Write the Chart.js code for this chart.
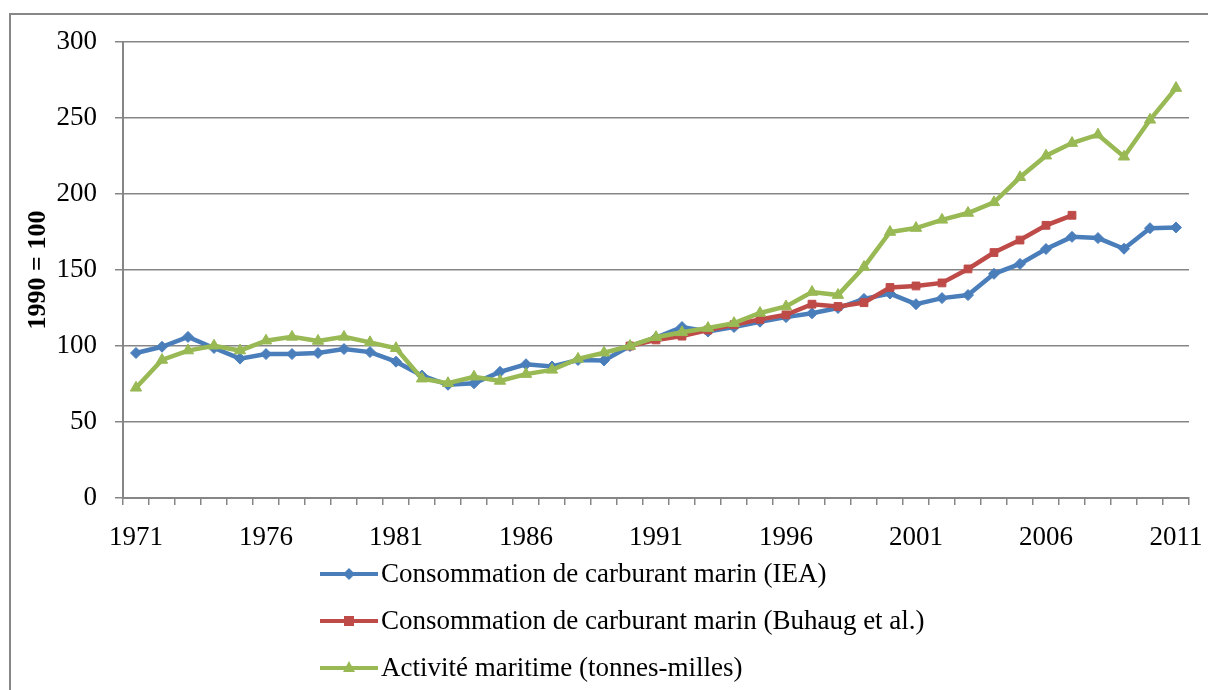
<!DOCTYPE html>
<html>
<head>
<meta charset="utf-8">
<script src="https://cdn.jsdelivr.net/npm/chart.js@4.4.0/dist/chart.umd.min.js"></script>
<style>
body { margin: 0; width: 1208px; height: 690px; overflow: hidden; background: #fff; position: relative; font-family: "Liberation Serif", "Times New Roman", serif; }
#frame { position: absolute; left: 9px; top: 13px; width: 1300px; height: 800px; border: 2px solid #878787; box-sizing: border-box; }
#chart { position: absolute; left: 0; top: 0; }
#legend { position: absolute; left: 320px; top: 550px; }
.item { display: flex; align-items: center; height: 47px; font-size: 27px; color: #000; white-space: nowrap; }
.item svg { margin-right: 3px; }
</style>
</head>
<body>
<div id="frame"></div>
<canvas id="chart" width="1208" height="690"></canvas>
<div id="legend"></div>
<script>
// years on the x axis
const years = ['1971','1972','1973','1974','1975','1976','1977','1978','1979','1980',
  '1981','1982','1983','1984','1985','1986','1987','1988','1989','1990',
  '1991','1992','1993','1994','1995','1996','1997','1998','1999','2000',
  '2001','2002','2003','2004','2005','2006','2007','2008','2009','2010','2011'];

// only every fifth year gets a label
const xTickLabels = ['1971','1976','1981','1986','1991','1996','2001','2006','2011'];

const ieaFuel = [95.4, 99.5, 106, 98.7, 91.7, 94.7, 94.7, 95.4, 98, 96,
  89.7, 80.5, 74.5, 75.5, 83, 88, 86.5, 90.8, 90.5, 100,
  105.5, 112.5, 109.5, 112.5, 116, 119, 121.5, 125, 131, 134.5,
  127.5, 131.5, 133.5, 147.5, 154, 163.8, 171.8, 171, 164, 177.5, 178];

// Buhaug et al. only covers 1990-2007
const buhaugFuel = [null, null, null, null, null, null, null, null, null, null,
  null, null, null, null, null, null, null, null, null, 100,
  104, 106.5, 110.5, 114, 117.5, 120.5, 127.5, 126, 128.5, 138.5,
  139.5, 141.5, 150.7, 161.5, 169.7, 179.4, 186, null, null, null, null];

const shipActivity = [72.5, 90.8, 97, 100.2, 97, 103.5, 106, 103.3, 106, 102.4,
  98.5, 78.5, 75.5, 79.8, 77, 81.5, 84.3, 91.5, 95.6, 100,
  105.8, 109, 111.8, 115, 121.7, 126, 135.5, 133.5, 152, 175,
  177.6, 183, 187.5, 194.5, 211, 225.2, 233.5, 239, 224.5, 248.8, 269.7];

const seriesNames = [
  'Consommation de carburant marin (IEA)',
  'Consommation de carburant marin (Buhaug et al.)',
  'Activité maritime (tonnes-milles)'
];

const serif = '"Liberation Serif", "Times New Roman", serif';
const gridGrey = '#868686';

function lineSet(label, data, color, style, radius, order) {
  return {
    label: label,
    data: data,
    borderColor: color,
    backgroundColor: color,
    borderWidth: 4.5,
    pointStyle: style,
    pointRadius: radius,
    pointBorderWidth: 1,
    tension: 0,
    spanGaps: false,
    order: order
  };
}

const chart = new Chart(document.getElementById('chart'), {
  type: 'line',
  data: {
    labels: years,
    datasets: [
      lineSet(seriesNames[0], ieaFuel, '#4A7EBB', 'rectRot', 5.5, 2),
      lineSet(seriesNames[1], buhaugFuel, '#BE4B48', 'rect', 5.5, 1),
      lineSet(seriesNames[2], shipActivity, '#98B954', 'triangle', 6.5, 0)
    ]
  },
  options: {
    responsive: false,
    animation: false,
    layout: { padding: { top: 42, right: 19, left: 0, bottom: 0 } },
    plugins: {
      legend: { display: false },
      tooltip: { enabled: false }
    },
    scales: {
      x: {
        offset: true,
        grid: { drawOnChartArea: false, drawTicks: true, tickLength: 7, offset: true, color: gridGrey, lineWidth: 1.5 },
        border: { color: gridGrey, width: 2 },
        ticks: {
          autoSkip: false,
          maxRotation: 0,
          padding: 17,
          color: '#000',
          font: { family: serif, size: 27 },
          callback: function (val, i) {
            return xTickLabels.includes(years[i]) ? years[i] : '';
          }
        },
        afterFit: function (s) {
          s.height = 192;
          s.paddingLeft = 0;
          s.paddingRight = 0;
        }
      },
      y: {
        min: 0,
        max: 300,
        ticks: { stepSize: 50, padding: 18, color: '#000', font: { family: serif, size: 27 } },
        grid: { color: gridGrey, lineWidth: 1.5, tickLength: 8 },
        border: { color: gridGrey, width: 2 },
        title: {
          display: true,
          text: '1990 = 100',
          color: '#000',
          font: { family: serif, size: 26, weight: 'bold' },
          padding: { top: 23, bottom: 0 }
        },
        afterFit: function (s) {
          s.width = 123;
          s.paddingTop = 0;
          s.paddingBottom = 0;
        }
      }
    }
  }
});

// html legend, one entry per row like the original
function markerSvg(style, c) {
  if (style === 'rectRot') return '<polygon points="29,4 35,10 29,16 23,10" fill="' + c + '"/>';
  if (style === 'rect') return '<rect x="24" y="5" width="10" height="10" fill="' + c + '"/>';
  return '<polygon points="29,3 35,14 23,14" fill="' + c + '"/>';
}

const legendBox = document.getElementById('legend');
chart.data.datasets.forEach(function (ds) {
  const row = document.createElement('div');
  row.className = 'item';
  row.innerHTML = '<svg width="58" height="20"><line x1="0" y1="10" x2="58" y2="10" stroke="' + ds.borderColor +
    '" stroke-width="4"/>' + markerSvg(ds.pointStyle, ds.borderColor) + '</svg><span>' + ds.label + '</span>';
  legendBox.appendChild(row);
});
</script>
</body>
</html>
